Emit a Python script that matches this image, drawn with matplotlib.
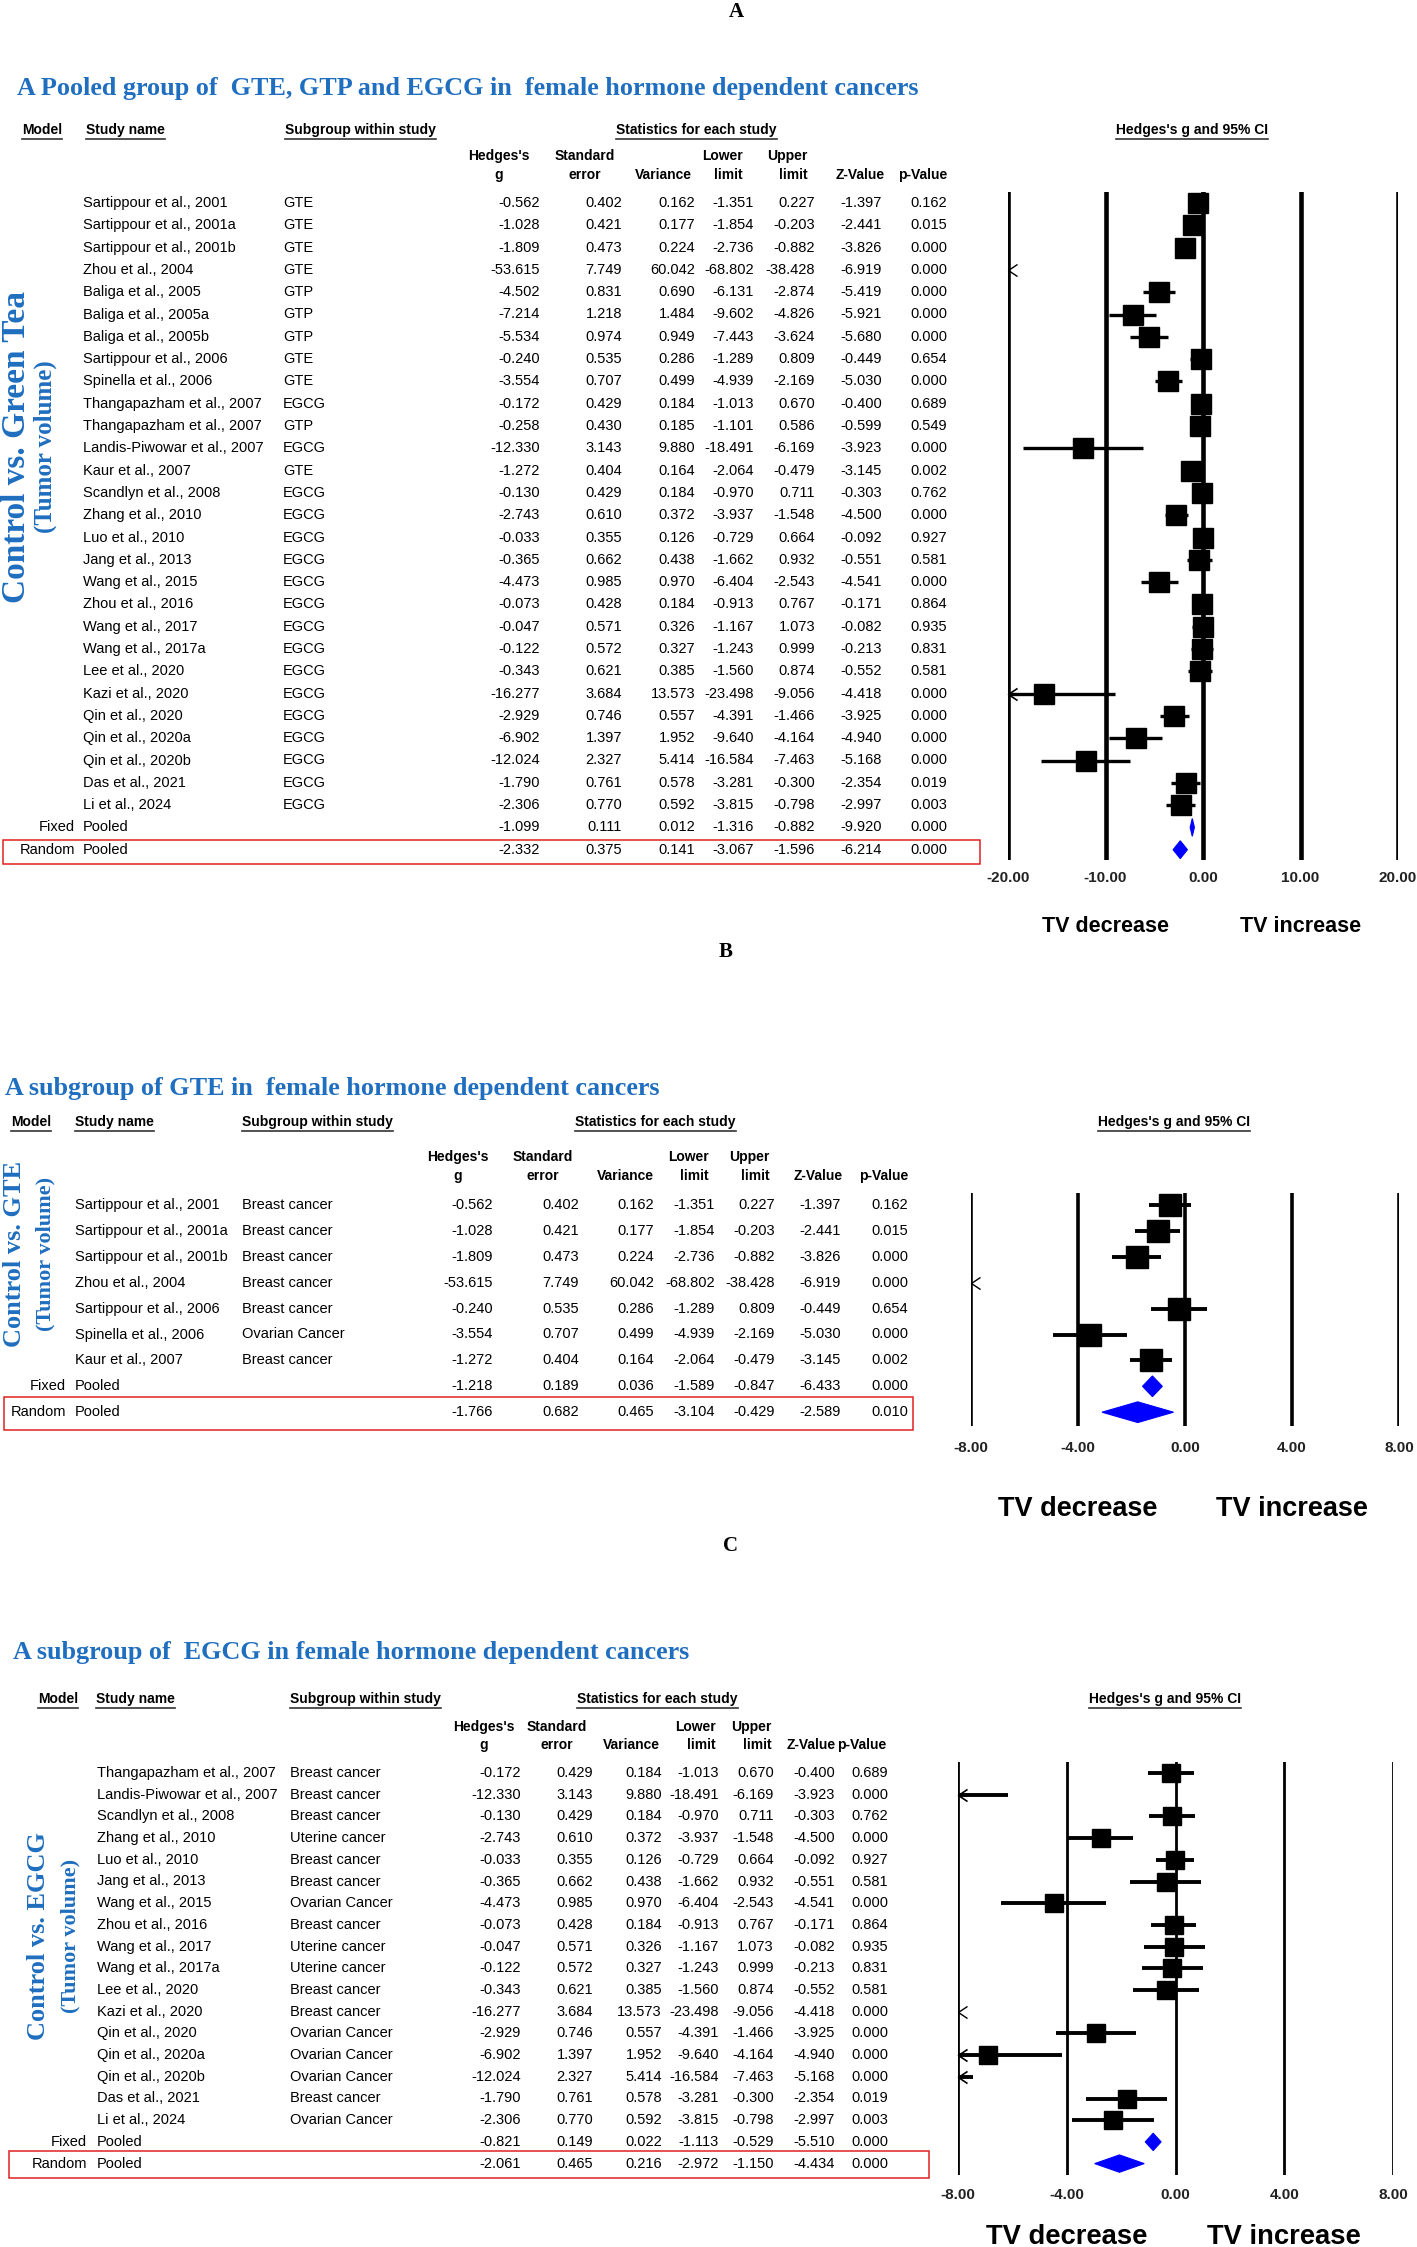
import numpy as np
import matplotlib
matplotlib.use("Agg")
import matplotlib.pyplot as plt
from matplotlib.patches import Rectangle, Polygon
from matplotlib.path import Path
from matplotlib.transforms import blended_transform_factory

W, H = 1417, 2247
DPI = 100
SANS = ['Liberation Sans', 'DejaVu Sans']
SERIF = ['Liberation Serif', 'DejaVu Serif']
BLUE = '#1F6EBF'

# ---------------- panel A data: pooled GTE, GTP and EGCG ----------------
a_study = ["Sartippour et al., 2001", "Sartippour et al., 2001a", "Sartippour et al., 2001b",
           "Zhou et al., 2004", "Baliga et al., 2005", "Baliga et al., 2005a", "Baliga et al., 2005b",
           "Sartippour et al., 2006", "Spinella et al., 2006", "Thangapazham et al., 2007",
           "Thangapazham et al., 2007", "Landis-Piwowar et al., 2007", "Kaur et al., 2007",
           "Scandlyn et al., 2008", "Zhang et al., 2010", "Luo et al., 2010", "Jang et al., 2013",
           "Wang et al., 2015", "Zhou et al., 2016", "Wang et al., 2017", "Wang et al., 2017a",
           "Lee et al., 2020", "Kazi et al., 2020", "Qin et al., 2020", "Qin et al., 2020a",
           "Qin et al., 2020b", "Das et al., 2021", "Li et al., 2024"]
a_group = ["GTE", "GTE", "GTE", "GTE", "GTP", "GTP", "GTP", "GTE", "GTE", "EGCG", "GTP", "EGCG",
           "GTE", "EGCG", "EGCG", "EGCG", "EGCG", "EGCG", "EGCG", "EGCG", "EGCG", "EGCG", "EGCG",
           "EGCG", "EGCG", "EGCG", "EGCG", "EGCG"]
a_g = [-0.562, -1.028, -1.809, -53.615, -4.502, -7.214, -5.534, -0.240, -3.554, -0.172, -0.258,
       -12.330, -1.272, -0.130, -2.743, -0.033, -0.365, -4.473, -0.073, -0.047, -0.122, -0.343,
       -16.277, -2.929, -6.902, -12.024, -1.790, -2.306]
a_se = [0.402, 0.421, 0.473, 7.749, 0.831, 1.218, 0.974, 0.535, 0.707, 0.429, 0.430, 3.143, 0.404,
        0.429, 0.610, 0.355, 0.662, 0.985, 0.428, 0.571, 0.572, 0.621, 3.684, 0.746, 1.397, 2.327,
        0.761, 0.770]
a_var = [0.162, 0.177, 0.224, 60.042, 0.690, 1.484, 0.949, 0.286, 0.499, 0.184, 0.185, 9.880, 0.164,
         0.184, 0.372, 0.126, 0.438, 0.970, 0.184, 0.326, 0.327, 0.385, 13.573, 0.557, 1.952, 5.414,
         0.578, 0.592]
a_lo = [-1.351, -1.854, -2.736, -68.802, -6.131, -9.602, -7.443, -1.289, -4.939, -1.013, -1.101,
        -18.491, -2.064, -0.970, -3.937, -0.729, -1.662, -6.404, -0.913, -1.167, -1.243, -1.560,
        -23.498, -4.391, -9.640, -16.584, -3.281, -3.815]
a_hi = [0.227, -0.203, -0.882, -38.428, -2.874, -4.826, -3.624, 0.809, -2.169, 0.670, 0.586, -6.169,
        -0.479, 0.711, -1.548, 0.664, 0.932, -2.543, 0.767, 1.073, 0.999, 0.874, -9.056, -1.466,
        -4.164, -7.463, -0.300, -0.798]
a_z = [-1.397, -2.441, -3.826, -6.919, -5.419, -5.921, -5.680, -0.449, -5.030, -0.400, -0.599, -3.923,
       -3.145, -0.303, -4.500, -0.092, -0.551, -4.541, -0.171, -0.082, -0.213, -0.552, -4.418, -3.925,
       -4.940, -5.168, -2.354, -2.997]
a_p = [0.162, 0.015, 0.000, 0.000, 0.000, 0.000, 0.000, 0.654, 0.000, 0.689, 0.549, 0.000, 0.002,
       0.762, 0.000, 0.927, 0.581, 0.000, 0.864, 0.935, 0.831, 0.581, 0.000, 0.000, 0.000, 0.000,
       0.019, 0.003]
# g, se, variance, lower, upper, z, p
a_fixed = [-1.099, 0.111, 0.012, -1.316, -0.882, -9.920, 0.000]
a_random = [-2.332, 0.375, 0.141, -3.067, -1.596, -6.214, 0.000]

# ---------------- panel B data: GTE subgroup ----------------
b_study = ["Sartippour et al., 2001", "Sartippour et al., 2001a", "Sartippour et al., 2001b",
           "Zhou et al., 2004", "Sartippour et al., 2006", "Spinella et al., 2006", "Kaur et al., 2007"]
b_group = ["Breast cancer", "Breast cancer", "Breast cancer", "Breast cancer", "Breast cancer",
           "Ovarian Cancer", "Breast cancer"]
b_g = [-0.562, -1.028, -1.809, -53.615, -0.240, -3.554, -1.272]
b_se = [0.402, 0.421, 0.473, 7.749, 0.535, 0.707, 0.404]
b_var = [0.162, 0.177, 0.224, 60.042, 0.286, 0.499, 0.164]
b_lo = [-1.351, -1.854, -2.736, -68.802, -1.289, -4.939, -2.064]
b_hi = [0.227, -0.203, -0.882, -38.428, 0.809, -2.169, -0.479]
b_z = [-1.397, -2.441, -3.826, -6.919, -0.449, -5.030, -3.145]
b_p = [0.162, 0.015, 0.000, 0.000, 0.654, 0.000, 0.002]
b_fixed = [-1.218, 0.189, 0.036, -1.589, -0.847, -6.433, 0.000]
b_random = [-1.766, 0.682, 0.465, -3.104, -0.429, -2.589, 0.010]

# ---------------- panel C data: EGCG subgroup ----------------
c_study = ["Thangapazham et al., 2007", "Landis-Piwowar et al., 2007", "Scandlyn et al., 2008",
           "Zhang et al., 2010", "Luo et al., 2010", "Jang et al., 2013", "Wang et al., 2015",
           "Zhou et al., 2016", "Wang et al., 2017", "Wang et al., 2017a", "Lee et al., 2020",
           "Kazi et al., 2020", "Qin et al., 2020", "Qin et al., 2020a", "Qin et al., 2020b",
           "Das et al., 2021", "Li et al., 2024"]
c_group = ["Breast cancer", "Breast cancer", "Breast cancer", "Uterine cancer", "Breast cancer",
           "Breast cancer", "Ovarian Cancer", "Breast cancer", "Uterine cancer", "Uterine cancer",
           "Breast cancer", "Breast cancer", "Ovarian Cancer", "Ovarian Cancer", "Ovarian Cancer",
           "Breast cancer", "Ovarian Cancer"]
c_g = [-0.172, -12.330, -0.130, -2.743, -0.033, -0.365, -4.473, -0.073, -0.047, -0.122, -0.343,
       -16.277, -2.929, -6.902, -12.024, -1.790, -2.306]
c_se = [0.429, 3.143, 0.429, 0.610, 0.355, 0.662, 0.985, 0.428, 0.571, 0.572, 0.621, 3.684, 0.746,
        1.397, 2.327, 0.761, 0.770]
c_var = [0.184, 9.880, 0.184, 0.372, 0.126, 0.438, 0.970, 0.184, 0.326, 0.327, 0.385, 13.573, 0.557,
         1.952, 5.414, 0.578, 0.592]
c_lo = [-1.013, -18.491, -0.970, -3.937, -0.729, -1.662, -6.404, -0.913, -1.167, -1.243, -1.560,
        -23.498, -4.391, -9.640, -16.584, -3.281, -3.815]
c_hi = [0.670, -6.169, 0.711, -1.548, 0.664, 0.932, -2.543, 0.767, 1.073, 0.999, 0.874, -9.056,
        -1.466, -4.164, -7.463, -0.300, -0.798]
c_z = [-0.400, -3.923, -0.303, -4.500, -0.092, -0.551, -4.541, -0.171, -0.082, -0.213, -0.552,
       -4.418, -3.925, -4.940, -5.168, -2.354, -2.997]
c_p = [0.689, 0.000, 0.762, 0.000, 0.927, 0.581, 0.000, 0.864, 0.935, 0.831, 0.581, 0.000, 0.000,
       0.000, 0.000, 0.019, 0.003]
c_fixed = [-0.821, 0.149, 0.022, -1.113, -0.529, -5.510, 0.000]
c_random = [-2.061, 0.465, 0.216, -2.972, -1.150, -4.434, 0.000]

hdr_names = ["Model", "Study name", "Subgroup within study", "Statistics for each study",
             "Hedges's g and 95% CI"]
col_line1 = ["Hedges's", "Standard", "", "Lower", "Upper", "", ""]
col_line2 = ["g", "error", "Variance", "limit", "limit", "Z-Value", "p-Value"]

# layout (pixel positions on the page)
LA = dict(label=("A", 736, 12), title="A Pooled group of  GTE, GTP and EGCG in  female hormone dependent cancers",
          title_xy=(17, 89), hdr_y=130, hdr_x=[22, 86, 285, 616, 1116], colhdr_y=(156, 175),
          col_x=[499, 585, 692, 743, 808, 885, 947], col_ha=['center', 'center', 'right', 'right', 'right', 'right', 'right'],
          model_r=75, study_x=83, group_x=283, val_r=[540, 622, 695, 754, 815, 882, 947],
          row0=203, sp=22.3, fx=(1008, 1398), fy=(192, 860), lim=20, ticks=[-20, -10, 0, 10, 20],
          tick_fs=11, tick_y=879, tv_y=926, tv_fs=15.5, tv_x=10, rect=(3, 840, 980, 864),
          vl=("Control vs. Green Tea", 17, 24, "(Tumor volume)", 45, 18, 447),
          vlw=3.3, ciw=2.4, sq=15)
LB = dict(label=("B", 726, 952), title="A subgroup of GTE in  female hormone dependent cancers",
          title_xy=(5, 1088), hdr_y=1122, hdr_x=[11, 75, 242, 575, 1098], colhdr_y=(1157, 1176),
          col_x=[458, 543, 654, 709, 770, 843, 908], col_ha=['center', 'center', 'right', 'right', 'right', 'right', 'right'],
          model_r=66, study_x=75, group_x=242, val_r=[493, 579, 654, 715, 775, 841, 908],
          row0=1205, sp=25.9, fx=(971, 1399), fy=(1193, 1426), lim=8, ticks=[-8, -4, 0, 4, 8],
          tick_fs=11, tick_y=1449, tv_y=1509, tv_fs=19.5, tv_x=4, rect=(4, 1397, 913, 1430),
          vl=("Control vs. GTE", 15, 19, "(Tumor volume)", 45, 16, 1254),
          vlw=2.6, ciw=2.8, sq=16.5)
LC = dict(label=("C", 730, 1546), title="A subgroup of  EGCG in female hormone dependent cancers",
          title_xy=(13, 1653), hdr_y=1699, hdr_x=[38, 96, 290, 577, 1089], colhdr_y=(1727, 1745),
          col_x=[484, 557, 660, 716, 772, 836, 837], col_ha=['center', 'center', 'right', 'right', 'right', 'right', 'left'],
          model_r=87, study_x=97, group_x=290, val_r=[521, 593, 662, 719, 774, 835, 888],
          row0=1773, sp=21.7, fx=(958, 1393), fy=(1762, 2175), lim=8, ticks=[-8, -4, 0, 4, 8],
          tick_fs=11, tick_y=2196, tv_y=2237, tv_fs=19.7, tv_x=4, rect=(9, 2151, 929, 2178),
          vl=("Control vs. EGCG", 39, 19, "(Tumor volume)", 70, 16, 1936),
          vlw=2.0, ciw=2.8, sq=13.5)

# open "<" head used where a CI runs off the left of the scale
chevron = Path([(1, 0.67), (0, 0), (1, -0.67)], [Path.MOVETO, Path.LINETO, Path.LINETO])

fig = plt.figure(figsize=(W / DPI, H / DPI), dpi=DPI)
fig.patch.set_facecolor('white')
page = fig.add_axes([0, 0, 1, 1])
page.set_xlim(0, W)
page.set_ylim(H, 0)
page.axis('off')
rnd = fig.canvas.get_renderer()


def draw_panel(L, study, group, g, se, var, lo, hi, z, p, fixed, random):
    lab, lx, ly = L['label']
    page.text(lx, ly, lab, ha='center', va='center', family=SERIF, weight='bold', fontsize=15)
    page.text(L['title_xy'][0], L['title_xy'][1], L['title'], ha='left', va='center',
              family=SERIF, weight='bold', fontsize=18.8, color=BLUE)

    # underlined header row
    for name, x in zip(hdr_names, L['hdr_x']):
        t = page.text(x, L['hdr_y'], name, ha='left', va='center', family=SANS, weight='bold', fontsize=10)
        bb = t.get_window_extent(rnd)
        x0 = page.transData.inverted().transform((bb.x0, bb.y0))[0]
        x1 = page.transData.inverted().transform((bb.x1, bb.y0))[0]
        page.plot([x0, x1], [L['hdr_y'] + 9] * 2, color='#333333', lw=1.2)

    for l1, l2, x, ha in zip(col_line1, col_line2, L['col_x'], L['col_ha']):
        if l1:
            page.text(x, L['colhdr_y'][0], l1, ha=ha, va='center', family=SANS, weight='bold', fontsize=10)
        page.text(x, L['colhdr_y'][1], l2, ha=ha, va='center', family=SANS, weight='bold', fontsize=10)

    n = len(study)
    rows = [[g[i], se[i], var[i], lo[i], hi[i], z[i], p[i]] for i in range(n)] + [fixed, random]
    names = list(study) + ["Pooled", "Pooled"]
    groups = list(group) + ["", ""]
    models = [""] * n + ["Fixed", "Random"]
    for i in range(n + 2):
        y = L['row0'] + i * L['sp']
        kw = dict(va='center', family=SANS, fontsize=10.5)
        if models[i]:
            page.text(L['model_r'], y, models[i], ha='right', **kw)
        page.text(L['study_x'], y, names[i], ha='left', **kw)
        page.text(L['group_x'], y, groups[i], ha='left', **kw)
        for v, xr in zip(rows[i], L['val_r']):
            page.text(xr, y, f"{v:.3f}", ha='right', **kw)

    r = L['rect']
    page.add_patch(Rectangle((r[0], r[1]), r[2] - r[0], r[3] - r[1], fill=False, edgecolor='#E02020', lw=1.1))

    t1, x1, f1, t2, x2, f2, vy = L['vl']
    page.text(x1, vy, t1, rotation=90, ha='center', va='center', family=SERIF, weight='bold',
              fontsize=f1, color=BLUE)
    page.text(x2, vy, t2, rotation=90, ha='center', va='center', family=SERIF, weight='bold',
              fontsize=f2, color=BLUE)

    # forest plot
    fx0, fx1 = L['fx']
    fy0, fy1 = L['fy']
    ax = fig.add_axes([fx0 / W, 1 - fy1 / H, (fx1 - fx0) / W, (fy1 - fy0) / H])
    ax.patch.set_alpha(0)
    lim = L['lim']
    ax.set_xlim(-lim, lim)
    ax.set_ylim((fy1 - L['row0']) / L['sp'], (fy0 - L['row0']) / L['sp'])
    for s in ax.spines.values():
        s.set_visible(False)
    ax.set_yticks([])
    for tk in L['ticks']:
        ax.axvline(tk, color='black', lw=L['vlw'], zorder=1)
    for i in range(n):
        if hi[i] < -lim:
            ax.plot([-lim], [i], marker=chevron, ms=13, mfc='none', mec='black', mew=1.0,
                    clip_on=False, zorder=3)
            continue
        ax.plot([max(lo[i], -lim), hi[i]], [i, i], color='black', lw=L['ciw'],
                solid_capstyle='butt', clip_on=False, zorder=2)
        if lo[i] < -lim:
            ax.plot([-lim], [i], marker=chevron, ms=13, mfc='none', mec='black', mew=1.2,
                    clip_on=False, zorder=3)
        if g[i] >= -lim:
            ax.plot([g[i]], [i], marker='s', ms=L['sq'], color='black', zorder=3)
    h = 0.4
    for j, pooled in enumerate([fixed, random]):
        yy = n + j
        ax.add_patch(Polygon([[pooled[3], yy], [pooled[0], yy - h], [pooled[4], yy], [pooled[0], yy + h]],
                             closed=True, facecolor='#0000FF', edgecolor='#0000FF', lw=0.8, zorder=3))

    ax.set_xticks(L['ticks'])
    ax.set_xticklabels([f"{t:.2f}" for t in L['ticks']], fontweight='bold', fontsize=L['tick_fs'],
                       family=SANS, color='#222222')
    pad_px = L['tick_y'] - fy1 - L['tick_fs'] * 1.389 * 0.5
    ax.tick_params(axis='x', length=0, pad=pad_px / 1.389)

    tr = blended_transform_factory(ax.transData, page.transData)
    ax.text(-L['tv_x'], L['tv_y'], "TV decrease", transform=tr, ha='center', va='center',
            family=SANS, weight='bold', fontsize=L['tv_fs'])
    ax.text(L['tv_x'], L['tv_y'], "TV increase", transform=tr, ha='center', va='center',
            family=SANS, weight='bold', fontsize=L['tv_fs'])


draw_panel(LA, a_study, a_group, a_g, a_se, a_var, a_lo, a_hi, a_z, a_p, a_fixed, a_random)
draw_panel(LB, b_study, b_group, b_g, b_se, b_var, b_lo, b_hi, b_z, b_p, b_fixed, b_random)
draw_panel(LC, c_study, c_group, c_g, c_se, c_var, c_lo, c_hi, c_z, c_p, c_fixed, c_random)

fig.savefig("out.png", dpi=DPI, facecolor='white')
